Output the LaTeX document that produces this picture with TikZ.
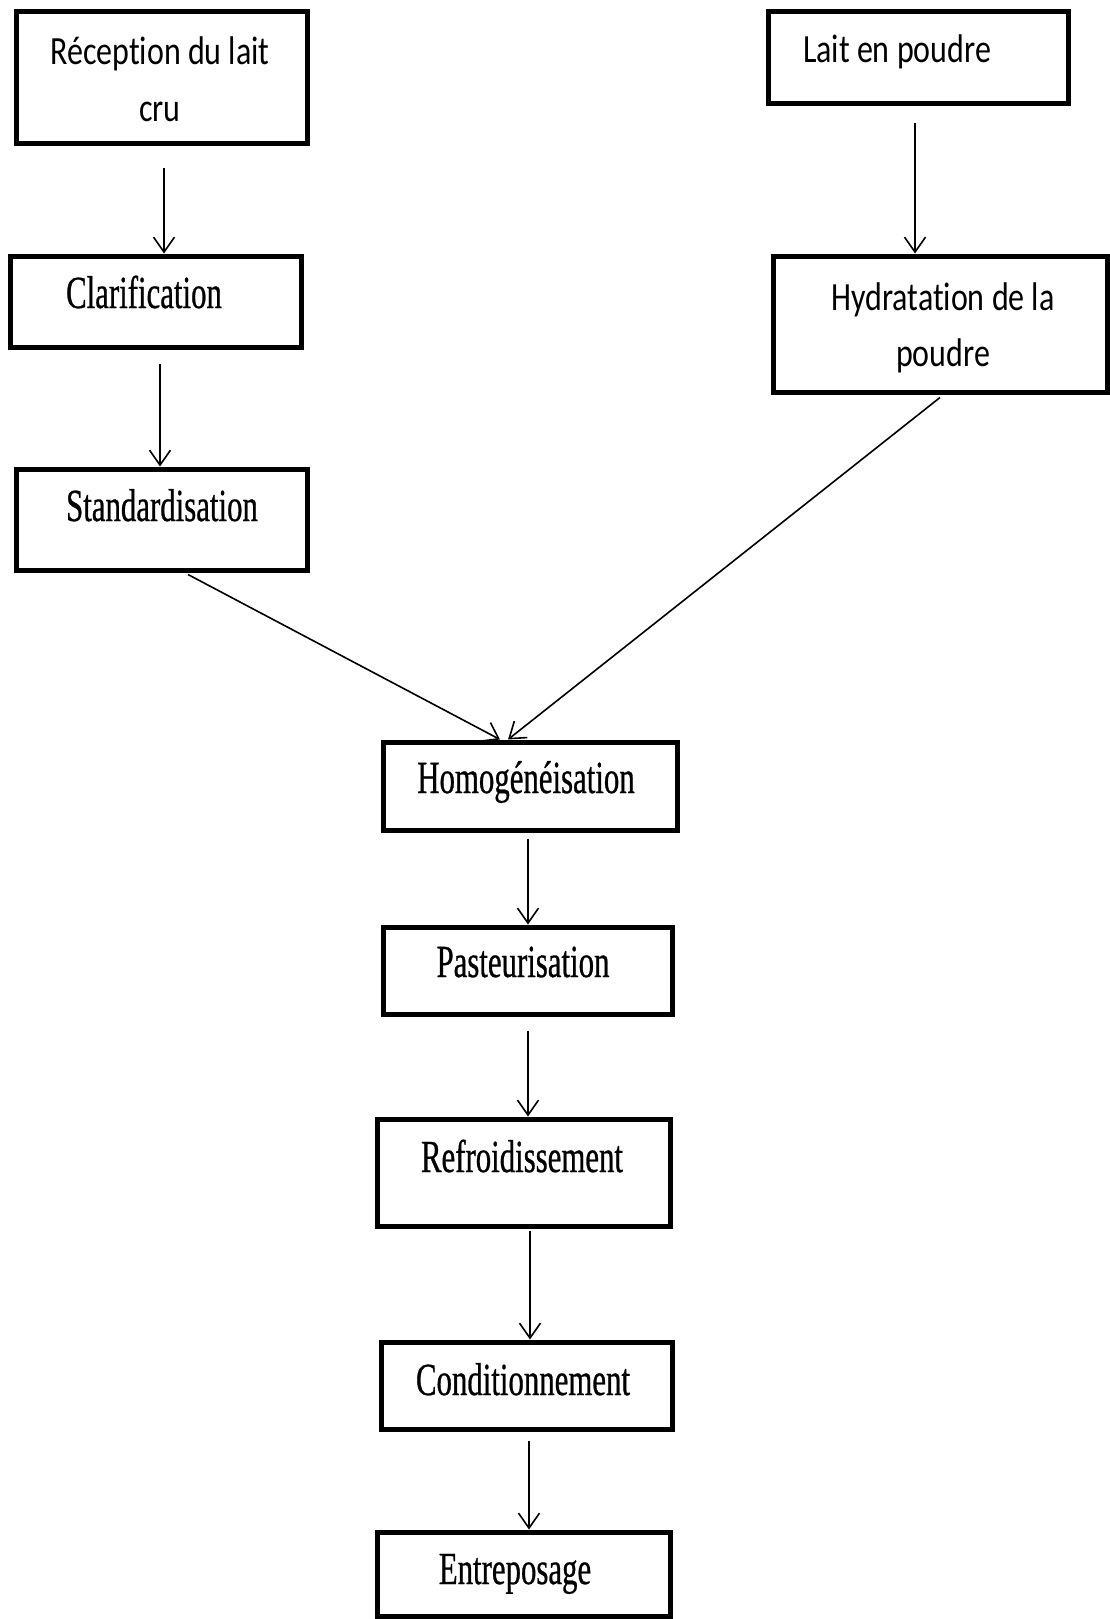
\documentclass[tikz,border=0pt]{standalone}
\usepackage{fontspec}
\usepackage{tikz}
\usetikzlibrary{arrows.meta,calc,positioning}
\newfontfamily\calibfont{Carlito}[FakeStretch=0.8, Ligatures=NoCommon, RawFeature={-calt;-clig}]
\newfontfamily\timesfont{Liberation Serif}[FakeStretch=0.67, FakeBold=0.6]

\tikzset{
	boite/.style={draw, line width=5pt, rectangle, inner sep=0pt},
	etiqA/.style={anchor=base, inner sep=0pt, align=center, font=\calibfont\fontsize{40}{56}\selectfont},
	etiqB/.style={anchor=base, inner sep=0pt, align=center, font=\timesfont\fontsize{46}{56}\selectfont},
	fleche/.style={-{Straight Barb[length=15pt,width=21pt,line width=1.6pt]}, line width=1.6pt}
}

\begin{document}
\begin{tikzpicture}[x=1pt, y=-1pt]
	\useasboundingbox (0,0) rectangle (1110,1619);
	
	% boites
	\node[boite, minimum width=291pt, minimum height=131pt] (recep) at (161.5,77.5) {};
	\node[boite, minimum width=291pt, minimum height=91pt] (clar) at (155.5,301.5) {};
	\node[boite, minimum width=291pt, minimum height=101pt] (stand) at (161.5,519.5) {};
	\node[boite, minimum width=300pt, minimum height=91pt] (lait) at (918,57.5) {};
	\node[boite, minimum width=334pt, minimum height=136pt] (hydra) at (940,324) {};
	\node[boite, minimum width=294pt, minimum height=88pt] (homog) at (530,786) {};
	\node[boite, minimum width=289pt, minimum height=87pt] (past) at (527.5,970.5) {};
	\node[boite, minimum width=293pt, minimum height=107pt] (refr) at (523.5,1172.5) {};
	\node[boite, minimum width=291pt, minimum height=87pt] (cond) at (526.5,1385.5) {};
	\node[boite, minimum width=293pt, minimum height=84pt] (entr) at (523.5,1574) {};
	
	% textes (base = ligne du bas)
	\node[etiqA] (t-recep) at (160,121) {Réception du lait\\cru};
	\node[etiqB] (t-clar) at (144,308) {Clarification};
	\node[etiqB] (t-stand) at (162,521) {Standardisation};
	\node[etiqA] (t-lait) at (897,63) {Lait en poudre};
	\node[etiqA] (t-hydra) at (943,366) {Hydratation de la\\poudre};
	\node[etiqB] (t-homog) at (526,793) {Homogénéisation};
	\node[etiqB] (t-past) at (523,977) {Pasteurisation};
	\node[etiqB] (t-refr) at (522,1172) {Refroidissement};
	\node[etiqB] (t-cond) at (523,1395) {Conditionnement};
	\node[etiqB] (t-entr) at (515,1584) {Entreposage};
	
	% fleches
	\draw[fleche] ($(recep.south)+(2.5,22)$) -- ($(clar.north)+(8.5,0)$);
	\draw[fleche] ($(clar.south)+(4.5,14)$) -- ($(stand.north)+(-1.5,0)$);
	\draw[fleche] ($(lait.south)+(-3,17)$) -- ($(hydra.north)+(-25,0)$);
	\draw[fleche] ($(stand.south)+(26.5,2)$) -- ($(homog.north)+(-30,0)$);
	\draw[fleche] ($(hydra.south)+(0,3)$) -- ($(homog.north)+(-22,0)$);
	\draw[fleche] ($(homog.south)+(-2,6)$) -- ($(past.north)+(0.5,0)$);
	\draw[fleche] ($(past.south)+(0.5,14)$) -- ($(refr.north)+(4.5,0)$);
	\draw[fleche] ($(refr.south)+(6.5,2)$) -- ($(cond.north)+(3.5,0)$);
	\draw[fleche] ($(cond.south)+(2.5,9)$) -- ($(entr.north)+(5.5,0)$);
\end{tikzpicture}
\end{document}
